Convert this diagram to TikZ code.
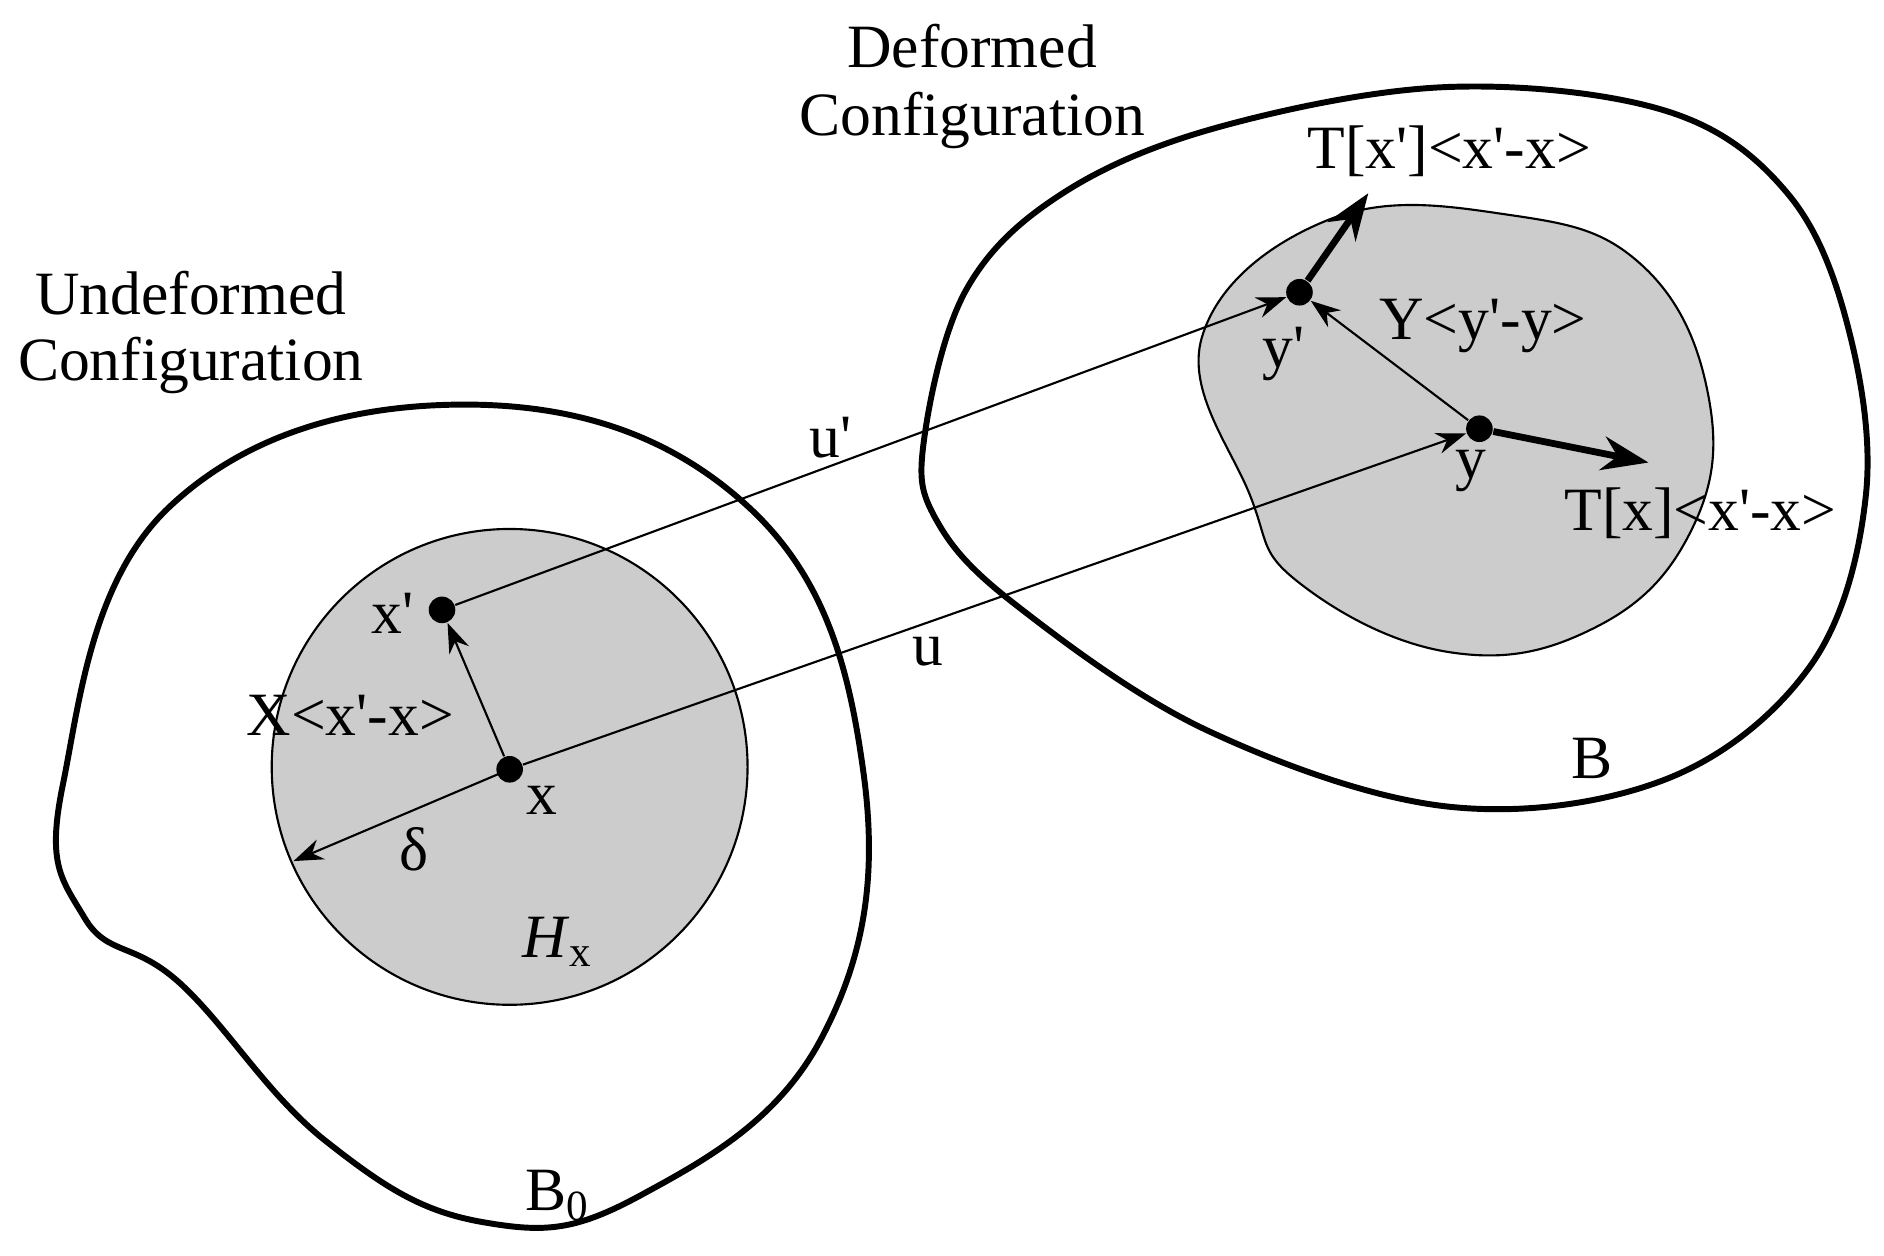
\documentclass[tikz,border=0pt]{standalone}
\usepackage{fontspec}
\setmainfont{Liberation Serif}
\usetikzlibrary{arrows.meta}
\newcommand{\qq}{\textquotesingle}
\begin{document}
\begin{tikzpicture}[x=0.01cm,y=-0.01cm,
  lbl/.style={font=\fontsize{14.5}{17}\selectfont,inner sep=0pt},
  dot/.style={circle,fill=black,inner sep=0pt,minimum size=0.22cm},
  thin/.style={line width=0.5pt,-{Stealth[length=7pt,width=5pt]}},
  thick/.style={line width=1.6pt,-{Stealth[length=11pt,width=8pt]}},
  blob/.style={line width=1.4pt}]
\useasboundingbox (0,0) rectangle (1560,1040);
% left outer
\draw[blob] plot[smooth cycle,tension=0.7] coordinates{(52,650) (140,420) (385,335) (620,420) (715,640) (680,860) (530,990) (400,1012) (270,945) (150,815) (70,760)};
\draw[fill=black!20,line width=0.5pt] (422,635) circle (197);
% right outer
\draw[blob] plot[smooth cycle,tension=0.6] coordinates{(765,365) (800,240) (880,160) (1010,105) (1200,72) (1380,92) (1480,160) (1530,270) (1545,410) (1500,550) (1380,645) (1200,668) (1000,605) (840,500) (775,430)};
\draw[fill=black!20,line width=0.5pt] plot[smooth cycle,tension=0.7] coordinates{(995,280) (1100,182) (1250,178) (1360,220) (1415,330) (1400,440) (1320,520) (1200,540) (1075,482) (1035,410)};
\node[dot] (x) at (422,637) {};
\node[dot] (xp) at (366,505) {};
\node[dot] (y) at (1225,355) {};
\node[dot] (yp) at (1076,242) {};
\coordinate (d) at (243,713);
\coordinate (ty) at (1365,383);
\coordinate (typ) at (1133,160);
\draw[thin] (x) -- (xp);
\draw[thin] (x.center) -- (d);
\draw[thin] (xp) -- (yp);
\draw[thin] (x) -- (y);
\draw[thin] (y) -- (yp);
\draw[thick] (y) -- (ty);
\draw[thick] (yp) -- (typ);
\node[lbl] (l1) at (805,38) {Deformed};
\node[lbl] (l2) at (805,100) {Configuration};
\node[lbl] (l3) at (158,243) {Undeformed};
\node[lbl] (l4) at (158,303) {Configuration};
\node[lbl] (lu1) at (688,362) {u\qq};
\node[lbl] (lu) at (768,540) {u};
\node[lbl] (lxp) at (325,508) {x\qq};
\node[lbl] (lX) at (290,592) {X\textless x\qq-x\textgreater};
\node[lbl] (lx) at (449,663) {x};
\node[lbl] (ld) at (343,703) {δ};
\node[lbl] (lH) at (462,780) {\textit{H}\textsubscript{x}};
\node[lbl] (lB0) at (462,990) {B\textsubscript{0}};
\node[lbl] (lB) at (1318,628) {B};
\node[lbl] (lT1) at (1200,125) {T[x\qq]\textless x\qq-x\textgreater};
\node[lbl] (lyp) at (1063,293) {y\qq};
\node[lbl] (lY) at (1228,270) {Y\textless y\qq-y\textgreater};
\node[lbl] (ly) at (1218,390) {y};
\node[lbl] (lT2) at (1408,425) {T[x]\textless x\qq-x\textgreater};
\end{tikzpicture}
\end{document}
